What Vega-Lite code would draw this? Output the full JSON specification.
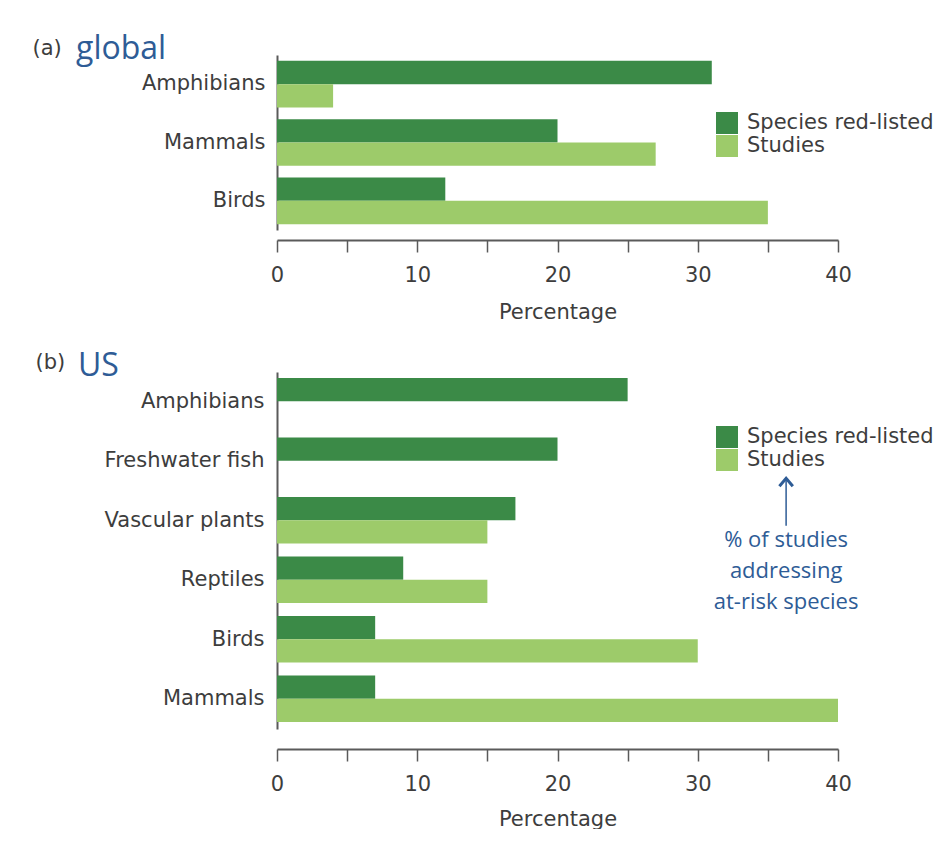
{
  "$schema": "https://vega.github.io/schema/vega-lite/v6.json",
  "background": "white",
  "padding": {"top": 33, "left": 32, "right": 0, "bottom": 0},
  "spacing": 28,
  "resolve": {"legend": {"color": "independent"}, "scale": {"color": "independent"}},
  "config": {
    "font": "DejaVu Sans",
    "view": {"stroke": null},
    "axis": {
      "labelFont": "DejaVu Sans", "labelFontSize": 21, "labelColor": "#3d3d3d",
      "titleFont": "DejaVu Sans", "titleFontSize": 21, "titleFontWeight": "normal", "titleColor": "#3d3d3d",
      "domainColor": "#5a5a5a", "domainWidth": 2, "tickColor": "#5a5a5a", "tickWidth": 1.5, "grid": false
    },
    "legend": {
      "orient": "none", "title": null, "padding": 0,
      "symbolType": "square", "symbolSize": 484, "symbolStrokeWidth": 0,
      "labelFont": "DejaVu Sans", "labelFontSize": 21, "labelColor": "#3d3d3d",
      "labelOffset": 9, "rowPadding": 1, "labelLimit": 300
    },
    "title": {"font": "Open Sans", "fontSize": 32, "fontWeight": "normal", "color": "#2E5C96", "anchor": "start", "frame": "group"}
  },
  "vconcat": [
    {
      "width": 561,
      "height": 175,
      "title": {"text": "global", "dx": -201, "offset": -29},
      "data": {"values": [
        {"taxon": "Amphibians", "measure": "Species red-listed", "value": 31},
        {"taxon": "Amphibians", "measure": "Studies", "value": 4},
        {"taxon": "Mammals", "measure": "Species red-listed", "value": 20},
        {"taxon": "Mammals", "measure": "Studies", "value": 27},
        {"taxon": "Birds", "measure": "Species red-listed", "value": 12},
        {"taxon": "Birds", "measure": "Studies", "value": 35}
      ]},
      "mark": {"type": "bar"},
      "encoding": {
        "y": {
          "field": "taxon", "type": "nominal",
          "sort": ["Amphibians", "Mammals", "Birds"],
          "scale": {"paddingInner": 0.2, "paddingOuter": 0.1},
          "axis": {"ticks": false, "labelPadding": 12, "title": "(a)", "titleAngle": 0, "titleAlign": "left", "titleBaseline": "middle", "titleX": -245, "titleY": -7}
        },
        "yOffset": {
          "field": "measure", "type": "nominal",
          "sort": ["Species red-listed", "Studies"],
          "scale": {"paddingInner": 0, "paddingOuter": 0}
        },
        "x": {
          "field": "value", "type": "quantitative",
          "scale": {"domain": [0, 40]},
          "axis": {"values": [0, 5, 10, 15, 20, 25, 30, 35, 40], "labelExpr": "datum.value % 10 === 0 ? datum.label : ''", "labelFlush": false, "offset": 10, "tickSize": 12, "labelPadding": 12, "title": "Percentage", "titlePadding": 16}
        },
        "color": {
          "field": "measure", "type": "nominal",
          "scale": {"domain": ["Species red-listed", "Studies"], "range": ["#3b8a47", "#9dcb6a"]},
          "legend": {"legendX": 439, "legendY": 57}
        }
      }
    },
    {
      "width": 561,
      "height": 357,
      "title": {"text": "US", "dx": -199, "offset": -32},
      "layer": [
        {
          "data": {"values": [
            {"taxon": "Amphibians", "measure": "Species red-listed", "value": 25},
            {"taxon": "Freshwater fish", "measure": "Species red-listed", "value": 20},
            {"taxon": "Vascular plants", "measure": "Species red-listed", "value": 17},
            {"taxon": "Vascular plants", "measure": "Studies", "value": 15},
            {"taxon": "Reptiles", "measure": "Species red-listed", "value": 9},
            {"taxon": "Reptiles", "measure": "Studies", "value": 15},
            {"taxon": "Birds", "measure": "Species red-listed", "value": 7},
            {"taxon": "Birds", "measure": "Studies", "value": 30},
            {"taxon": "Mammals", "measure": "Species red-listed", "value": 7},
            {"taxon": "Mammals", "measure": "Studies", "value": 40}
          ]},
          "mark": {"type": "bar"},
          "encoding": {
            "y": {
              "field": "taxon", "type": "nominal",
              "scale": {"domain": ["Amphibians", "Freshwater fish", "Vascular plants", "Reptiles", "Birds", "Mammals"], "paddingInner": 0.2, "paddingOuter": 0.1},
              "axis": {"ticks": false, "labelPadding": 13, "title": "(b)", "titleAngle": 0, "titleAlign": "left", "titleBaseline": "middle", "titleX": -242, "titleY": -10}
            },
            "yOffset": {
              "field": "measure", "type": "nominal",
              "sort": ["Species red-listed", "Studies"],
              "scale": {"paddingInner": 0, "paddingOuter": 0}
            },
            "x": {
              "field": "value", "type": "quantitative",
              "scale": {"domain": [0, 40]},
              "axis": {"values": [0, 5, 10, 15, 20, 25, 30, 35, 40], "labelExpr": "datum.value % 10 === 0 ? datum.label : ''", "labelFlush": false, "offset": 20, "tickSize": 12, "labelPadding": 12, "title": "Percentage", "titlePadding": 14}
            },
            "color": {
              "field": "measure", "type": "nominal",
              "scale": {"domain": ["Species red-listed", "Studies"], "range": ["#3b8a47", "#9dcb6a"]},
              "legend": {"legendX": 439, "legendY": 54}
            }
          }
        },
        {
          "data": {"values": [{"label": "arrow", "x": 36.3, "from": "Freshwater fish", "to": "Vascular plants"}]},
          "mark": {"type": "rule", "color": "#2E5C96", "strokeWidth": 1.5, "yOffset": 16, "y2Offset": 5},
          "encoding": {
            "x": {"field": "x", "type": "quantitative"},
            "y": {"field": "from", "type": "nominal"},
            "y2": {"field": "to"}
          }
        },
        {
          "data": {"values": [{"label": "arrowhead", "x": 36.3, "at": "Freshwater fish"}]},
          "mark": {"type": "point", "shape": "M-1,0.6L0,-0.6L1,0.6", "filled": false, "size": 180, "color": "#2E5C96", "strokeWidth": 3, "opacity": 1, "yOffset": 21},
          "encoding": {
            "x": {"field": "x", "type": "quantitative"},
            "y": {"field": "at", "type": "nominal"}
          }
        },
        {
          "data": {"values": [{"text": ["% of studies", "addressing", "at-risk species"], "x": 36.3, "at": "Reptiles"}]},
          "mark": {"type": "text", "font": "Open Sans", "fontSize": 22, "color": "#2E5C96", "lineHeight": 31, "align": "center", "baseline": "middle", "yOffset": -40},
          "encoding": {
            "x": {"field": "x", "type": "quantitative"},
            "y": {"field": "at", "type": "nominal"},
            "text": {"field": "text"}
          }
        }
      ]
    }
  ]
}
